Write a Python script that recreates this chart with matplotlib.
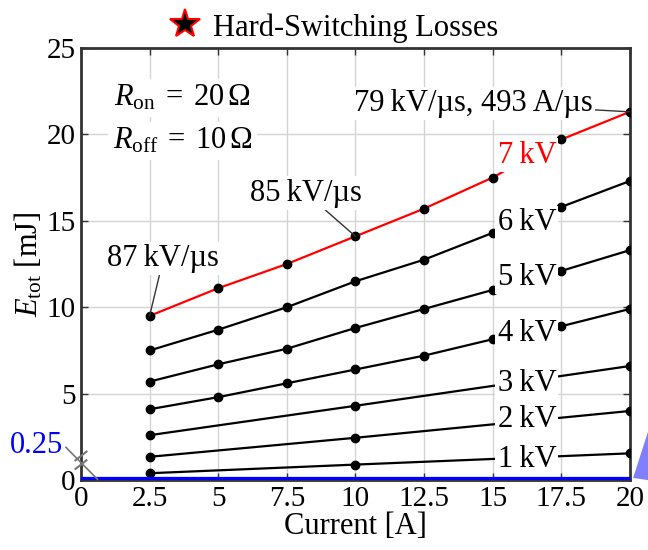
import matplotlib

matplotlib.use("Agg")
import matplotlib.pyplot as plt  # noqa: E402
from matplotlib.patches import Polygon  # noqa: E402

plt.rcParams["font.family"] = ["Liberation Serif", "DejaVu Serif"]
plt.rcParams["mathtext.fontset"] = "custom"
plt.rcParams["mathtext.rm"] = "Liberation Serif"
plt.rcParams["mathtext.it"] = "Liberation Serif:italic"

FS = 22       # rótulos internos / título
FS_TICK = 21

# dados (corrente [A] x energia [mJ])
i_full = [2.5, 5, 7.5, 10, 12.5, 15, 17.5, 20]
i_low = [2.5, 10, 20]

e_7kv = [9.5, 11.1, 12.5, 14.1, 15.7, 17.5, 19.7, 21.3]
e_6kv = [7.5, 8.7, 10.0, 11.5, 12.75, 14.3, 15.8, 17.3]
e_5kv = [5.7, 6.7, 7.6, 8.8, 9.9, 11.0, 12.1, 13.3]
e_4kv = [4.1, 4.8, 5.6, 6.4, 7.2, 8.15, 8.9, 9.9]
e_3kv = [2.6, 4.3, 6.6]
e_2kv = [1.35, 2.45, 4.0]
e_1kv = [0.4, 0.9, 1.55]

xticks = [0, 2.5, 5, 7.5, 10, 12.5, 15, 17.5, 20]
xticklabels = ["0", "2.5", "5", "7.5", "10", "12.5", "15", "17.5", "20"]
yticks = [0, 5, 10, 15, 20, 25]

fig = plt.figure(figsize=(6.48, 5.5), dpi=100)
ax = fig.add_axes([0.125, 0.127, 0.847, 0.786])

ax.grid(True, color="#d4d4d4", linewidth=1.0, zorder=0)

for e in (e_6kv, e_5kv, e_4kv):
    ax.plot(i_full, e, color="black", lw=1.6, marker="o", ms=6, zorder=3)
ax.plot(i_full, e_7kv, color="red", lw=1.6, zorder=3)
ax.plot(i_full, e_7kv, color="black", lw=0, marker="o", ms=6, zorder=4)
for e in (e_3kv, e_2kv, e_1kv):
    ax.plot(i_low, e, color="black", lw=1.6, marker="o", ms=6, zorder=3)

# linha azul em zero (perdas soft-switching)
ax.plot([0, 20], [0, 0], color="blue", lw=4.5, zorder=5, solid_capstyle="butt")

box = dict(facecolor="white", edgecolor="none", pad=1.5)

labels_kv = [("7 kV", 18.8, "red"), ("6 kV", 14.9, "black"), ("5 kV", 11.7, "black"),
             ("4 kV", 8.5, "black"), ("3 kV", 5.6, "black"), ("2 kV", 3.5, "black"),
             ("1 kV", 1.2, "black")]
for txt, y, c in labels_kv:
    ax.text(16.25, y, txt.replace(" ", "\u2009"), color=c, fontsize=FS, ha="center",
            va="center", bbox=box, zorder=6)

seta = dict(arrowstyle="-", color="#333333", lw=1, shrinkA=0, shrinkB=0)
ax.annotate("79\u2009kV/\u00b5s, 493\u2009A/\u00b5s", xy=(20, 21.3), xytext=(14.3, 21.8),
            fontsize=FS, ha="center", va="center", bbox=box, zorder=7, arrowprops=seta)
ax.annotate("85\u2009kV/\u00b5s", xy=(10, 14.1), xytext=(8.2, 16.6),
            fontsize=FS, ha="center", va="center", bbox=box, zorder=7, arrowprops=seta)
ax.annotate("87\u2009kV/\u00b5s", xy=(2.5, 9.5), xytext=(3.0, 12.8),
            fontsize=FS, ha="center", va="center", bbox=box, zorder=7, arrowprops=seta)

ax.text(3.7, 22.1, r"$R_\mathrm{on}\;=\;20\,\Omega$", fontsize=FS, ha="center",
        va="center", bbox=dict(facecolor="white", edgecolor="none", pad=3), zorder=6)
ax.text(3.7, 19.6, r"$R_\mathrm{off}\;=\;10\,\Omega$", fontsize=FS, ha="center",
        va="center", bbox=dict(facecolor="white", edgecolor="none", pad=3), zorder=6)

# rótulo 0.25 em azul com linha de chamada e quebra de eixo
ax.text(-0.65, 2.0, "0.25", color="blue", fontsize=FS, ha="right", va="center",
        clip_on=False)
ax.plot([-0.55, 0.6], [1.9, 0.05], color="#777777", lw=1.2, clip_on=False, zorder=6)
for dy in (0.9, 1.4):
    ax.plot([-0.2, 0.2], [dy - 0.25, dy + 0.25], color="#777777", lw=1.5,
            clip_on=False, zorder=7)

ax.set_xlim(0, 20)
ax.set_ylim(0, 25)
ax.set_xticks(xticks)
ax.set_xticklabels(xticklabels)
ax.set_yticks(yticks)
ax.tick_params(direction="in", length=5, width=1, labelsize=FS_TICK, top=True, right=True,
               pad=4, color="#333333")
for s in ax.spines.values():
    s.set_linewidth(2)
    s.set_color("#333333")

ax.set_xlabel("Current [A]", fontsize=FS, labelpad=0)
ax.set_ylabel(r"$E_\mathrm{tot}$ [mJ]", fontsize=FS, labelpad=1)

# título com marcador de estrela
fig.lines.append(plt.Line2D([0.285], [0.957], transform=fig.transFigure, marker="*",
                            ms=22, mfc="black", mec="red", mew=1.5, lw=0))
fig.text(0.328, 0.948, "Hard-Switching Losses", fontsize=FS, ha="left", va="center")

# triângulo azul recortado no canto inferior direito
fig.patches.append(Polygon([[0.977, 0.131], [1.0, 0.215], [1.0, 0.127]], closed=True,
                           transform=fig.transFigure, facecolor="#8080ff",
                           edgecolor="none"))

fig.savefig("out.png", dpi=100)
